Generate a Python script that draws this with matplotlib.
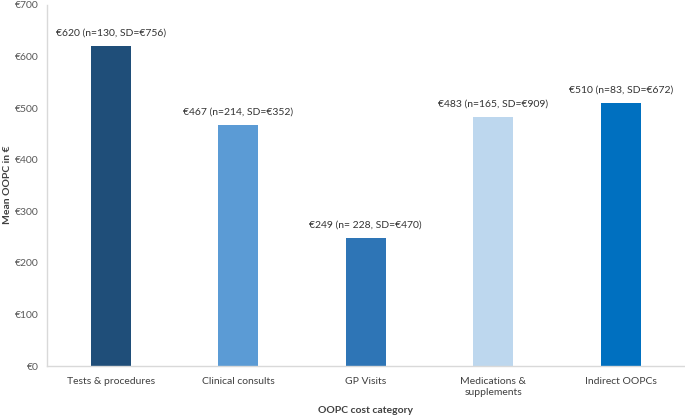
import matplotlib
matplotlib.use("Agg")
import matplotlib.pyplot as plt
import numpy as np

categories = ["Tests & procedures", "Clinical consults", "GP Visits",
              "Medications &\nsupplements", "Indirect OOPCs"]
means = [620, 467, 249, 483, 510]
labels = ["€620 (n=130, SD=€756)", "€467 (n=214, SD=€352)",
          "€249 (n= 228, SD=€470)", "€483 (n=165, SD=€909)",
          "€510 (n=83, SD=€672)"]
colors = ["#1f4e79", "#5b9bd5", "#2e75b6", "#bdd7ee", "#0070c0"]

plt.rcParams['font.family'] = ['Lato', 'DejaVu Sans']

fig = plt.figure(figsize=(6.85, 4.19), dpi=100)
ax = fig.add_axes([47/685, 1 - 366/419, (684.5-47)/685, (366-5)/419])

x = np.arange(len(categories))
ax.bar(x, means, width=0.31, color=colors)
for xi, v, lab in zip(x, means, labels):
    ax.text(xi, v + 16, lab, ha="center", va="bottom", fontsize=7.5, color="#333333")

ax.set_xlim(-0.5, len(categories) - 0.5)
ax.set_ylim(0, 700)
ax.set_yticks(range(0, 701, 100))
ax.set_yticklabels(["€%d" % t for t in range(0, 701, 100)])
ax.set_xticks(x)
ax.set_xticklabels(categories, fontsize=7.5, color="#404040")
ax.tick_params(axis="y", labelsize=7.5, labelcolor="#595959", length=0, pad=6)
ax.tick_params(axis="x", length=0, pad=8)

for s in ["top", "right"]:
    ax.spines[s].set_visible(False)
for s in ["left", "bottom"]:
    ax.spines[s].set_color("#d9d9d9")
    ax.spines[s].set_linewidth(1)

fig.text(8/685, 1 - 185/419, "Mean OOPC in €", rotation=90, ha="center", va="center",
         fontsize=7.5, fontweight="bold", color="#404040")
fig.text(366/685, 1 - 410/419, "OOPC cost category", ha="center", va="center",
         fontsize=7.5, fontweight="bold", color="#404040")

fig.savefig("out.png", dpi=100)
